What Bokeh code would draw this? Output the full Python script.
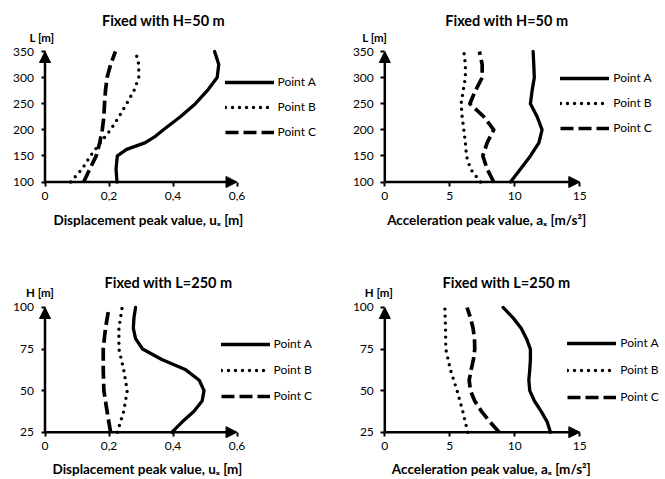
from bokeh.plotting import figure
from bokeh.models import Range1d, FixedTicker, Arrow, NormalHead, Label, Legend, LegendItem
from bokeh.layouts import column, row
from bokeh.embed import file_html
from bokeh.resources import INLINE

# ---------------- data ----------------
series_names = ["Point A", "Point B", "Point C"]

# Panel 1: fixed with H=50 m, displacement peak value vs L
p1_title = "Fixed with H=50 m"
p1_L = [100, 125, 150, 175, 200, 225, 250, 275, 300, 325, 350]
p1_A_L = [100, 125, 150, 162.5, 175, 187.5, 200, 225, 250, 275, 300, 325, 350]
p1_A = [0.225, 0.222, 0.226, 0.255, 0.312, 0.345, 0.37, 0.423, 0.47, 0.507, 0.538, 0.543, 0.53]
p1_B = [0.080, 0.116, 0.142, 0.173, 0.205, 0.231, 0.255, 0.278, 0.293, 0.293, 0.283]
p1_C = [0.121, 0.140, 0.160, 0.171, 0.179, 0.184, 0.186, 0.189, 0.194, 0.205, 0.220]

# Panel 2: fixed with H=50 m, acceleration peak value vs L
p2_title = "Fixed with H=50 m"
p2_L = [100, 125, 150, 175, 200, 225, 250, 275, 300, 325, 350]
p2_A = [9.67, 10.44, 11.2, 11.85, 12.1, 11.72, 11.2, 11.33, 11.5, 11.46, 11.41]
p2_B = [7.36, 6.59, 6.28, 6.2, 6.08, 5.95, 5.87, 6.03, 6.2, 6.2, 6.08]
p2_C = [8.38, 7.87, 7.54, 7.87, 8.38, 7.62, 6.54, 6.97, 7.49, 7.49, 7.28]

# Panel 3: fixed with L=250 m, displacement peak value vs H
p3_title = "Fixed with L=250 m"
p3_H_fine = [25, 31.25, 37.5, 43.75, 50, 56.25, 62.5, 68.75, 75, 81.25, 87.5, 93.75, 100]
p3_H = [25, 37.5, 50, 62.5, 75, 87.5, 100]
p3_A = [0.397, 0.429, 0.465, 0.491, 0.497, 0.482, 0.44, 0.365, 0.305, 0.283, 0.276, 0.278, 0.283]
p3_B = [0.226, 0.246, 0.257, 0.246, 0.231, 0.231, 0.241]
p3_C = [0.205, 0.194, 0.184, 0.182, 0.182, 0.189, 0.200]

# Panel 4: fixed with L=250 m, acceleration peak value vs H
p4_title = "Fixed with L=250 m"
p4_H_fine = [25, 31.25, 37.5, 43.75, 50, 56.25, 62.5, 68.75, 75, 81.25, 87.5, 93.75, 100]
p4_H = [25, 37.5, 50, 62.5, 75, 87.5, 100]
p4_A = [12.74, 12.49, 12.03, 11.51, 11.15, 11.08, 11.15, 11.2, 11.2, 10.9, 10.49, 9.87, 9.1]
p4_B = [6.38, 6.0, 5.56, 5.05, 4.69, 4.67, 4.62]
p4_C = [8.8, 8.08, 7.44, 6.92, 6.59, 6.49, 6.64, 6.82, 6.92, 6.9, 6.79, 6.59, 6.33]

disp_ticks = [0, 0.2, 0.4, 0.6]
disp_tick_labels = ["0", "0,2", "0,4", "0,6"]
acc_ticks = [0, 5, 10, 15]
acc_tick_labels = ["0", "5", "10", "15"]
L_ticks = [100, 150, 200, 250, 300, 350]
H_ticks = [25, 50, 75, 100]

disp_label = "Displacement peak value, u\u2093 [m]"
acc_label = "Acceleration peak value, a\u2093 [m/s\u00b2]"
L_label = "L [m]"
H_label = "H [m]"

# ---------------- styles ----------------
FONT = "Lato"
STYLES = [
    dict(line_width=3.3, line_cap="round", line_join="round"),
    dict(line_width=3.4, line_dash="0 7", line_cap="round", line_join="round"),
    dict(line_width=3.7, line_dash="13 5", line_cap="butt", line_join="round"),
]


def make_panel(W, H, ox, oy, sx, sy, y_lo, y_hi, x_axis_end,
               x_ticks, x_tick_labels, y_ticks, series,
               title, title_off, ylab, ylab_off, xlab, xlab_off,
               legend_rel, legend_spacing):
    # the frame covers the whole figure; (ox, oy) is the pixel position of (0, y_lo)
    p = figure(width=W, height=H,
               x_range=Range1d(-ox / sx, (W - ox) / sx),
               y_range=Range1d(y_lo - (H - oy) / sy, y_lo + oy / sy),
               output_backend="svg", toolbar_location=None,
               min_border_left=0, min_border_right=0,
               min_border_top=0, min_border_bottom=0)
    p.outline_line_color = None
    p.xgrid.visible = False
    p.ygrid.visible = False
    p.background_fill_color = "white"
    p.border_fill_color = "white"

    p.xaxis[0].fixed_location = y_lo
    p.yaxis[0].fixed_location = 0
    for ax, ticks, labels, standoff in ((p.xaxis[0], x_ticks, x_tick_labels, 6),
                                        (p.yaxis[0], y_ticks, [str(t) for t in y_ticks], 7)):
        ax.ticker = FixedTicker(ticks=ticks)
        ax.major_label_overrides = {t: s for t, s in zip(ticks, labels)}
        ax.axis_line_color = None
        ax.minor_tick_line_color = None
        ax.major_tick_in = 0
        ax.major_tick_out = 4
        ax.major_tick_line_width = 2
        ax.major_tick_line_color = "black"
        ax.major_label_text_font = FONT
        ax.major_label_text_font_size = "12px"
        ax.major_label_text_color = "black"
        ax.major_label_standoff = standoff

    renderers = []
    for (xs, ys), st in zip(series, STYLES):
        r = p.line(xs, ys, line_color="black", **st)
        renderers.append(r)

    # axis lines with arrow heads
    p.add_layout(Arrow(end=NormalHead(size=11, fill_color="black", line_color="black", line_width=1),
                       x_start=0, y_start=y_lo, x_end=x_axis_end, y_end=y_lo,
                       line_width=2.5, line_color="black"))
    p.add_layout(Arrow(end=NormalHead(size=11, fill_color="black", line_color="black", line_width=1),
                       x_start=0, y_start=y_lo, x_end=0, y_end=y_hi,
                       line_width=2.5, line_color="black"))

    p.add_layout(Label(x=0, y=y_hi, x_offset=title_off[0], y_offset=title_off[1], text=title,
                       text_font=FONT, text_font_size="14.5px", text_font_style="bold",
                       text_align="center", text_baseline="alphabetic", text_color="black"))
    p.add_layout(Label(x=0, y=y_hi, x_offset=ylab_off[0], y_offset=ylab_off[1], text=ylab,
                       text_font=FONT, text_font_size="11.5px", text_font_style="bold",
                       text_align="center", text_baseline="alphabetic", text_color="black"))
    p.add_layout(Label(x=0, y=y_lo, x_offset=xlab_off[0], y_offset=xlab_off[1], text=xlab,
                       text_font=FONT, text_font_size="13.5px", text_font_style="bold",
                       text_align="center", text_baseline="alphabetic", text_color="black"))

    legend = Legend(items=[LegendItem(label=n, renderers=[r]) for n, r in zip(series_names, renderers)],
                    location=(ox + legend_rel[0], (H - oy) + legend_rel[1]), orientation="vertical",
                    padding=0, margin=0, spacing=legend_spacing,
                    glyph_width=49, glyph_height=20, label_height=20, label_standoff=4,
                    label_text_font=FONT, label_text_font_size="12px", label_text_color="black",
                    border_line_color=None, background_fill_alpha=0)
    p.add_layout(legend)
    return p


p1 = make_panel(330, 240, 44.5, 181.5, 320.0, 0.522, 100, 350, 0.6,
                disp_ticks, disp_tick_labels, L_ticks,
                [(p1_A, p1_A_L), (p1_B, p1_L), (p1_C, p1_L)],
                p1_title, (118.5, 31.5), L_label, (-3, 14), disp_label, (103.5, -37.5),
                (180, 40), 5)
p2 = make_panel(335, 240, 54.3, 181.5, 13.0, 0.522, 100, 350, 15,
                acc_ticks, acc_tick_labels, L_ticks,
                [(p2_A, p2_L), (p2_B, p2_L), (p2_C, p2_L)],
                p2_title, (122, 31), L_label, (-10, 14), acc_label, (102, -37.5),
                (176, 44), 5)
p3 = make_panel(330, 239, 44.5, 191.7, 320.0, 1.663, 25, 100, 0.6,
                disp_ticks, disp_tick_labels, H_ticks,
                [(p3_A, p3_H_fine), (p3_B, p3_H), (p3_C, p3_H)],
                p3_title, (123.5, 25.3), H_label, (-5, 15), disp_label, (102.5, -36.6),
                (176, 26), 6)
p4 = make_panel(335, 239, 54.3, 191.7, 13.0, 1.663, 25, 100, 15,
                acc_ticks, acc_tick_labels, H_ticks,
                [(p4_A, p4_H_fine), (p4_B, p4_H), (p4_C, p4_H_fine)],
                p4_title, (121.7, 25.3), H_label, (-6, 15), acc_label, (106.7, -36.6),
                (183, 25), 7)

layout = column(row(p1, p2), row(p3, p4))
open("out.html", "w").write(file_html(layout, INLINE))
